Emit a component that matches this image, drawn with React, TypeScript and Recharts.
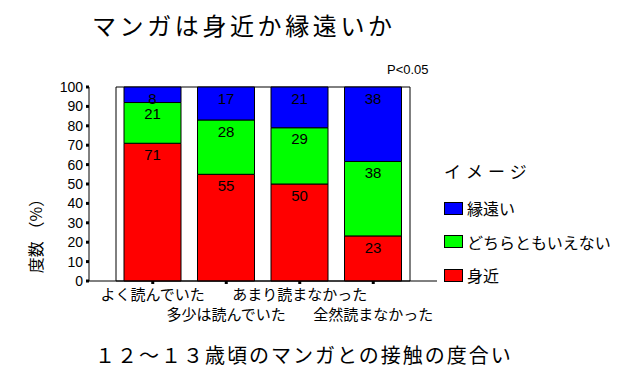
import { Bar, BarChart, LabelList, ReferenceArea, XAxis, YAxis } from 'recharts';

const CATEGORIES = ['よく読んでいた', '多少は読んでいた', 'あまり読まなかった', '全然読まなかった'];
const MIJIKA = [71, 55, 50, 23]; // 身近
const DOCHIRA = [21, 28, 29, 38]; // どちらともいえない
const TOI = [8, 17, 21, 38]; // 縁遠い
const Y_TICKS = [0, 0.1, 0.2, 0.3, 0.4, 0.5, 0.6, 0.7, 0.8, 0.9, 1];

const LEGEND = [
  { name: '縁遠い', color: '#0000ff' },
  { name: 'どちらともいえない', color: '#00ff00' },
  { name: '身近', color: '#ff0000' },
];

const data = CATEGORIES.map((c, i) => ({
  cat: c,
  mijika: MIJIKA[i],
  dochira: DOCHIRA[i],
  toi: TOI[i],
}));

const JP = '"Noto Sans CJK JP", "Liberation Sans", sans-serif';
const NUM = '"Liberation Sans", "Noto Sans CJK JP", sans-serif';

function XTick({ x, y, payload, index }: any) {
  const row = index % 2;
  return (
    <text
      x={x}
      y={y + 7 + row * 20}
      textAnchor="middle"
      dominantBaseline="central"
      fontSize={15}
      fontFamily={JP}
      fill="#000"
    >
      {payload.value}
    </text>
  );
}

export default function App() {
  return (
    <div
      style={{
        position: 'absolute',
        left: 0,
        top: 0,
        width: 621,
        height: 373,
        background: '#fff',
        fontFamily: JP,
      }}
    >
      <div style={{ position: 'absolute', left: 92, top: 9, fontSize: 24, letterSpacing: 3.6, lineHeight: '32px' }}>
        マンガは身近か縁遠いか
      </div>
      <div style={{ position: 'absolute', left: 387, top: 61, fontSize: 13, fontFamily: NUM, lineHeight: '18px' }}>
        P&lt;0.05
      </div>
      <div
        style={{
          position: 'absolute',
          left: 35,
          top: 232,
          transform: 'translate(-50%, -50%) rotate(-90deg)',
          fontSize: 16,
          whiteSpace: 'nowrap',
          lineHeight: '20px',
        }}
      >
        度数 （%）
      </div>
      <div style={{ position: 'absolute', left: 95, top: 341, fontSize: 20, letterSpacing: 2, lineHeight: '28px', whiteSpace: 'nowrap' }}>
        １２～１３歳頃のマンガとの接触の度合い
      </div>

      <div style={{ position: 'absolute', left: 444, top: 159, fontSize: 17, letterSpacing: 5, lineHeight: '24px' }}>
        イメージ
      </div>
      {LEGEND.map((l, i) => (
        <div
          key={l.name}
          style={{
            position: 'absolute',
            left: 444,
            top: 201 + i * 33.5,
            display: 'flex',
            alignItems: 'center',
            whiteSpace: 'nowrap',
          }}
        >
          <span
            style={{
              display: 'inline-block',
              width: 17,
              height: 11,
              background: l.color,
              border: '1px solid #000',
              marginRight: 4,
            }}
          />
          <span style={{ fontSize: 16, lineHeight: '14px' }}>{l.name}</span>
        </div>
      ))}

      <BarChart
        width={621}
        height={373}
        data={data}
        stackOffset="expand"
        margin={{ top: 87, right: 184, left: 0, bottom: 52 }}
        style={{ position: 'absolute', left: 0, top: 0 }}
      >
        <XAxis
          dataKey="cat"
          height={40}
          padding={{ left: 27, right: 27 }}
          axisLine={{ stroke: '#000' }}
          tickLine={{ stroke: '#000', strokeWidth: 3 }}
          tickSize={3}
          interval={0}
          tick={<XTick />}
        />
        <YAxis
          width={89}
          domain={[0, 1]}
          ticks={Y_TICKS}
          interval={0}
          axisLine={{ stroke: '#000' }}
          tickLine={{ stroke: '#000', strokeWidth: 3 }}
          tickSize={3}
          tickMargin={3}
          tickFormatter={(v: number) => String(Math.round(v * 100))}
          tick={{ fontSize: 14, fill: '#000', fontFamily: NUM }}
        />
        <ReferenceArea y1={0} y2={1} fill="none" stroke="#000" strokeWidth={1} ifOverflow="visible" />
        <Bar dataKey="mijika" stackId="a" fill="#ff0000" stroke="#000" strokeWidth={1} barSize={57} isAnimationActive={false}>
          <LabelList dataKey="mijika" position="insideTop" offset={6} fill="#000" fontSize={15} fontFamily={NUM} />
        </Bar>
        <Bar dataKey="dochira" stackId="a" fill="#00ff00" stroke="#000" strokeWidth={1} barSize={57} isAnimationActive={false}>
          <LabelList dataKey="dochira" position="insideTop" offset={6} fill="#000" fontSize={15} fontFamily={NUM} />
        </Bar>
        <Bar dataKey="toi" stackId="a" fill="#0000ff" stroke="#000" strokeWidth={1} barSize={57} isAnimationActive={false}>
          <LabelList dataKey="toi" position="insideTop" offset={6} fill="#000" fontSize={15} fontFamily={NUM} />
        </Bar>
      </BarChart>
    </div>
  );
}
